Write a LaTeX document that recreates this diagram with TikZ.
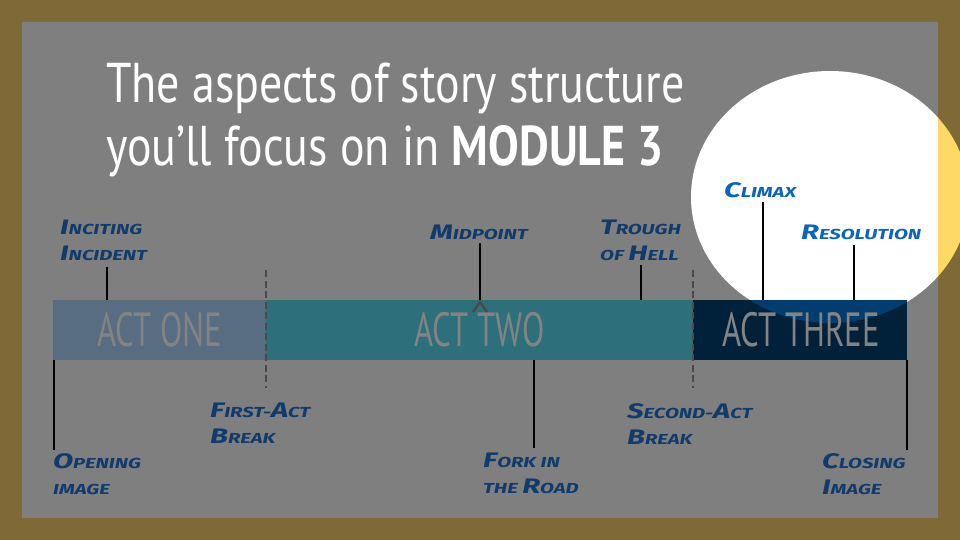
\documentclass[tikz,border=0pt]{standalone}
\usepackage{fontspec}
\newfontfamily\titlefont[FakeStretch=0.82]{PT Sans}
\newfontfamily\actfont[FakeStretch=0.68]{PT Sans}
\newfontfamily\handfont[FakeStretch=1.4]{Fira Sans}
\newcommand\hsc[2]{{\fontsize{21}{26}\selectfont #1}{\fontsize{14.5}{26}\selectfont #2}}
\definecolor{frame}{HTML}{7F6A37}
\definecolor{slate}{HTML}{7F7F7F}
\definecolor{hlyellow}{HTML}{FFD966}
\definecolor{actone}{HTML}{586D82}
\definecolor{acttwo}{HTML}{2E6F7C}
\definecolor{actthree}{HTML}{01203A}
\definecolor{actthreehl}{HTML}{013D6E}
\definecolor{labblue}{HTML}{103B6C}
\definecolor{brightblue}{HTML}{0A64C0}
\definecolor{bartext}{HTML}{838383}
\definecolor{dashgray}{HTML}{4A4A4A}
\tikzset{
  lab/.style={anchor=north west, inner sep=0pt, align=left, text=labblue, font=\handfont\bfseries\itshape\fontsize{14.5}{26}\selectfont},
  barbox/.style={inner sep=0pt, minimum height=60pt, text=bartext, font=\actfont\fontsize{48}{48}\selectfont},
  conn/.style={draw=black, line width=2pt},
  breakline/.style={draw=dashgray, line width=2.5pt, dash pattern=on 7pt off 3.5pt}
}
\begin{document}
\begin{tikzpicture}[x=1pt,y=-1pt]
\useasboundingbox (0,0) rectangle (960,540);
\fill[frame] (0,0) rectangle (960,540);
\fill[slate] (22,22) rectangle (938,518);
\begin{scope}
  \clip (22,22) rectangle (938,518);
  \fill[white] (830,197) ellipse [x radius=139pt, y radius=126pt];
\end{scope}
\begin{scope}
  \clip (938,0) rectangle (960,540);
  \fill[hlyellow] (830,197) ellipse [x radius=139pt, y radius=126pt];
\end{scope}

% title
\node[anchor=base west, inner sep=0pt, text=white, font=\titlefont\fontsize{56}{56}\selectfont] (t1) at (106,103) {The aspects of story structure};
\node[anchor=base west, inner sep=0pt, text=white, font=\titlefont\fontsize{56}{56}\selectfont] (t2) at (106,166) {you’ll focus on in \textbf{MODULE 3}};

% bars
\node[barbox, fill=actone, minimum width=213pt] (a1) at (159.5,330) {ACT ONE};
\node[barbox, fill=acttwo, minimum width=427pt] (a2) at (479.5,330) {ACT TWO};
\node[barbox, fill=actthree, minimum width=214pt] (a3) at (800,330) {};
\begin{scope}
  \clip (693,300) rectangle (907,360);
  \fill[actthreehl] (830,197) ellipse [x radius=139pt, y radius=126pt];
\end{scope}
\node[barbox] (a3t) at (801,330) {ACT THREE};

% dashed act breaks
\coordinate (b1top) at (266,270);
\coordinate (b1bot) at (266,388);
\coordinate (b2top) at (693,270);
\coordinate (b2bot) at (693,388);
\draw[breakline] (b1top) -- (b1bot);
\draw[breakline] (b2top) -- (b2bot);

% labels
\node[lab] (inc) at (60,220) {\hsc{I}{NCITING}\\\hsc{I}{NCIDENT}};
\node[lab] (open) at (53,453) {\hsc{O}{PENING}\\\hsc{}{IMAGE}};
\node[lab] (first) at (210,403) {\hsc{F}{IRST-}\hsc{A}{CT}\\\hsc{B}{REAK}};
\node[lab] (mid) at (430,225) {\hsc{M}{IDPOINT}};
\node[lab] (trough) at (600,220) {\hsc{T}{ROUGH}\\\hsc{}{OF }\hsc{H}{ELL}};
\node[lab] (fork) at (483,453) {\hsc{F}{ORK }\hsc{}{IN}\\\hsc{}{THE }\hsc{R}{OAD}};
\node[lab] (second) at (627,403) {\hsc{S}{ECOND-}\hsc{A}{CT}\\\hsc{B}{REAK}};
\node[lab, text=brightblue] (climax) at (724,182) {\hsc{C}{LIMAX}};
\node[lab, text=brightblue] (resol) at (801,225) {\hsc{R}{ESOLUTION}};
\node[lab] (closing) at (822,453) {\hsc{C}{LOSING}\\\hsc{I}{MAGE}};

% connectors
\coordinate (cinc) at (107,267);
\draw[conn] (cinc) -- (cinc |- a1.north);
\coordinate (copen) at (54,450);
\draw[conn] (copen) -- (copen |- a1.south);
\coordinate (cmid) at (480,243);
\draw[conn] (cmid) -- (cmid |- a2.north);
\draw[draw=dashgray, line width=2.5pt, line join=miter] (473,312) -- (480,302) -- (487,312);
\coordinate (ctrough) at (641,265);
\draw[conn] (ctrough) -- (ctrough |- a2.north);
\coordinate (cfork) at (534,448);
\draw[conn] (cfork) -- (cfork |- a2.south);
\coordinate (cclimax) at (763,202);
\draw[conn] (cclimax) -- (cclimax |- a3.north);
\coordinate (cresol) at (854,245);
\draw[conn] (cresol) -- (cresol |- a3.north);
\coordinate (cclosing) at (907,450);
\draw[conn] (cclosing) -- (cclosing |- a3.south);
\end{tikzpicture}
\end{document}
